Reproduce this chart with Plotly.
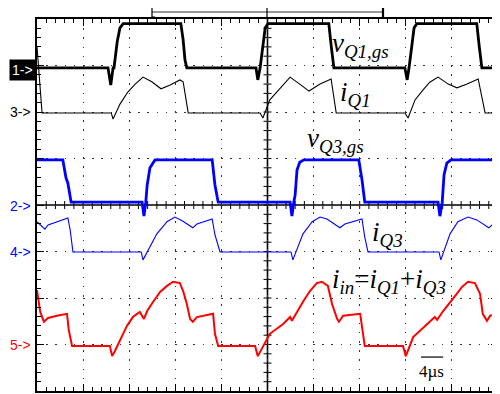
import plotly.graph_objects as go

# ---------------- data (time in scope divisions, amplitude in divisions relative to channel marker)
t_vq1gs = [0, 1.54, 1.60, 1.65, 1.67, 1.74, 1.80, 1.87, 3.12, 3.17, 3.21, 3.25,
           4.75, 4.79, 4.84, 4.90, 4.95, 5.01, 6.33, 6.38, 6.44,
           7.98, 8.03, 8.07, 8.13, 8.18, 8.24, 9.54, 9.59, 9.65, 10]
v_vq1gs = [0, 0, -0.37, 0, 0, 0.56, 0.86, 0.95, 0.95, 0.60, 0.17, 0,
           0, -0.26, 0, 0.49, 0.86, 0.95, 0.95, 0.49, 0,
           0, -0.26, 0, 0.49, 0.86, 0.95, 0.95, 0.49, 0, 0]

t_iq1 = [0, 0.11, 1.61, 1.65, 1.80, 1.97, 2.13, 2.30, 2.49, 2.69, 2.89, 3.10, 3.17, 3.28,
         4.84, 4.90, 5.05, 5.23, 5.38, 5.49, 5.70, 5.90, 6.14, 6.38, 6.49,
         7.98, 8.05, 8.20, 8.37, 8.52, 8.70, 8.92, 9.11, 9.33, 9.57, 9.72, 10]
v_iq1 = [1.42, 0, 0, -0.13, 0.19, 0.45, 0.62, 0.77, 0.67, 0.52, 0.60, 0.71, 0.67, 0,
         0, -0.11, 0.28, 0.49, 0.66, 0.77, 0.62, 0.47, 0.62, 0.73, 0,
         0, -0.11, 0.28, 0.49, 0.66, 0.77, 0.62, 0.54, 0.62, 0.73, 0, 0]

t_vq3gs = [0, 0.56, 0.63, 0.67, 0.74, 2.28, 2.32, 2.36, 2.39, 2.45, 2.56, 3.80, 3.86, 3.93,
           5.49, 5.53, 5.57, 5.60, 5.64, 5.70, 5.79, 6.98, 7.05, 7.11,
           8.70, 8.74, 8.79, 8.83, 8.89, 8.98, 10]
v_vq3gs = [0.97, 0.97, 0.58, 0.47, 0.06, 0.06, -0.24, 0.06, 0.43, 0.80, 0.97, 0.97, 0.43, 0.06,
           0.06, -0.24, 0.06, 0.22, 0.75, 0.92, 0.97, 0.97, 0.54, 0.06,
           0.06, -0.24, 0.06, 0.65, 0.90, 0.97, 0.97]

t_iq3 = [0, 0.11, 0.17, 0.24, 0.67, 0.72, 0.78,
         2.26, 2.30, 2.60, 2.82, 2.99, 3.15, 3.38, 3.47, 3.80, 3.86, 3.97,
         5.51, 5.55, 5.77, 5.97, 6.14, 6.29, 6.57, 6.68, 7.05, 7.11, 7.18,
         8.72, 8.76, 8.96, 9.13, 9.35, 9.54, 9.80, 9.89, 10]
v_iq3 = [0.65, 0.56, 0.49, 0.58, 0.73, 0.47, 0,
         0, -0.17, 0.39, 0.65, 0.75, 0.67, 0.52, 0.60, 0.71, 0.37, 0,
         0, -0.17, 0.39, 0.65, 0.75, 0.71, 0.52, 0.60, 0.71, 0.32, 0,
         0, -0.17, 0.39, 0.65, 0.75, 0.69, 0.52, 0.60, 0.67]

t_iin = [0, 0.07, 0.15, 0.24, 0.43, 0.65, 0.69, 0.76,
         1.58, 1.63, 1.69, 1.80, 1.95, 2.08, 2.23, 2.32, 2.39, 2.52, 2.67, 2.82, 2.95,
         3.10, 3.17, 3.25, 3.32, 3.38, 3.47, 3.82, 3.86, 3.93,
         4.73, 4.79, 5.05, 5.34, 5.49, 5.53, 5.64, 5.77, 5.92, 6.07, 6.18, 6.31,
         6.40, 6.51, 6.55, 6.64, 7.01, 7.07, 7.11,
         7.94, 8.00, 8.16, 8.46, 8.63, 8.68, 8.81, 9.02, 9.22, 9.35, 9.50, 9.61,
         9.67, 9.76, 9.83, 10]
v_iin = [1.20, 0.73, 0.52, 0.60, 0.65, 0.69, 0.34, 0,
         0, -0.22, -0.11, 0.11, 0.43, 0.62, 0.73, 0.58, 0.75, 0.95, 1.16, 1.29, 1.38,
         1.35, 1.18, 0.90, 0.58, 0.52, 0.62, 0.69, 0.26, 0,
         0, -0.22, 0.26, 0.47, 0.62, 0.54, 0.73, 0.95, 1.18, 1.35, 1.38, 1.29,
         0.90, 0.58, 0.52, 0.65, 0.69, 0.26, 0,
         0, -0.22, 0.19, 0.47, 0.62, 0.56, 0.75, 1.01, 1.27, 1.38, 1.35, 1.12,
         0.69, 0.54, 0.65, 0.69]

# channel reference levels (divisions) and styles
channels = [
    ("1->", 2.95, t_vq1gs, v_vq1gs, "black", 2.8),
    ("3->", 1.98, t_iq1, v_iq1, "black", 1.1),
    ("2->", 0.0, t_vq3gs, v_vq3gs, "#0000ff", 2.8),
    ("4->", -1.01, t_iq3, v_iq3, "#0000ff", 1.1),
    ("5->", -3.03, t_iin, v_iin, "#ff0000", 2.0),
]

fig = go.Figure()
for name, off, tt, vv, col, w in channels:
    fig.add_trace(go.Scatter(x=tt, y=[off + v for v in vv], mode="lines",
                             line=dict(color=col, width=w), hoverinfo="skip",
                             showlegend=False))

# ---------------- frame, grid, ticks
axis_common = dict(showticklabels=False, zeroline=False, showline=True,
                   linecolor="black", linewidth=1.6, mirror="allticks",
                   ticks="inside", ticklen=7, tickcolor="black", tickwidth=1,
                   showgrid=True, gridcolor="#333333", gridwidth=1,
                   griddash="1.5px,7.7px", dtick=1, tick0=0, fixedrange=True,
                   automargin=False)
fig.update_xaxes(range=[0, 10], **axis_common,
                 minor=dict(dtick=0.2, ticks="inside", ticklen=4,
                            tickcolor="black", showgrid=False))
fig.update_yaxes(range=[-4, 4], **axis_common,
                 minor=dict(dtick=0.2, ticks="inside", ticklen=4,
                            tickcolor="black", showgrid=False))

shapes = []
shapes.append(dict(type="line", xref="x", yref="y", x0=5, x1=5, y0=-4, y1=4,
                   line=dict(color="black", width=1.6), layer="below"))
shapes.append(dict(type="line", xref="x", yref="y", x0=0, x1=10, y0=0, y1=0,
                   line=dict(color="black", width=1.6), layer="below"))
p = ""
hy = 4 / 46.5
hx = 4 / 46.1
for i in range(1, 50):
    x = i * 0.2
    p += f"M{x:.3f},{-hy:.4f}L{x:.3f},{hy:.4f}"
for j in range(1, 40):
    y = -4 + j * 0.2
    p += f"M{5 - hx:.4f},{y:.3f}L{5 + hx:.4f},{y:.3f}"
shapes.append(dict(type="path", xref="x", yref="y", path=p,
                   line=dict(color="black", width=1), layer="below"))

# top bracket (time window indicator), paper coordinates (plot area = 461 x 372 px)
def px2paper_x(px):
    return (px - 37) / 461.0
def py2paper_y(py):
    return (391 - py) / 372.0

yb = py2paper_y(12)
yt = py2paper_y(7)
ybot = py2paper_y(17)
shapes.append(dict(type="line", xref="paper", yref="paper", x0=px2paper_x(152),
                   x1=px2paper_x(383), y0=yb, y1=yb, line=dict(color="#333333", width=1.2)))
for bx, w in [(152, 1.2), (267, 1.2), (383, 2.2)]:
    shapes.append(dict(type="line", xref="paper", yref="paper", x0=px2paper_x(bx),
                       x1=px2paper_x(bx), y0=ybot, y1=yt, line=dict(color="black", width=w)))
shapes.append(dict(type="line", xref="paper", yref="paper", x0=px2paper_x(152),
                   x1=px2paper_x(155), y0=yt, y1=yt, line=dict(color="black", width=1)))
shapes.append(dict(type="line", xref="paper", yref="paper", x0=px2paper_x(152),
                   x1=px2paper_x(155), y0=ybot, y1=ybot, line=dict(color="black", width=1)))
shapes.append(dict(type="line", xref="paper", yref="paper", x0=px2paper_x(264),
                   x1=px2paper_x(270), y0=yt, y1=yt, line=dict(color="black", width=1)))
# 4 us scale bar
shapes.append(dict(type="line", xref="x", yref="y", x0=8.33, x1=8.81,
                   y0=-3.27, y1=-3.27, line=dict(color="black", width=1.2)))
fig.update_layout(shapes=shapes)

# ---------------- annotations
serif = "Liberation Serif, Times New Roman, serif"
ann = []
def lab(text, x, y, size=27):
    ann.append(dict(text=text, x=x, y=y, xref="x", yref="y", xanchor="left",
                    yanchor="middle", showarrow=False,
                    font=dict(family=serif, size=size, color="black")))

lab("<i>v</i><sub><i>Q1,gs</i></sub>", 6.36, 3.44)
lab("<i>i</i><sub><i>Q1</i></sub>", 6.53, 2.39)
lab("<i>v</i><sub><i>Q3,gs</i></sub>", 5.81, 1.40)
lab("<i>i</i><sub><i>Q3</i></sub>", 7.22, -0.62)
lab("<i>i</i><sub><i>in</i></sub>=<i>i</i><sub><i>Q1</i></sub>+<i>i</i><sub><i>Q3</i></sub>",
    6.36, -1.63)
ann.append(dict(text="4µs", x=8.56, y=-3.59, xref="x", yref="y", xanchor="center",
                yanchor="middle", showarrow=False,
                font=dict(family=serif, size=17, color="black")))

marker_y = {"1->": 2.90, "3->": 2.0, "2->": -0.02, "4->": -1.01, "5->": -3.01}
for name, off, tt, vv, col, w in channels:
    is1 = name == "1->"
    ann.append(dict(text=name, x=0, y=marker_y[name], xref="x", yref="y",
                    xanchor="right", yanchor="middle", showarrow=False,
                    xshift=-1 if is1 else -3,
                    bgcolor="black" if is1 else None, borderpad=2,
                    font=dict(family="Liberation Sans, Arial, sans-serif", size=14,
                              color="white" if is1 else col)))
fig.update_layout(annotations=ann)

# the page body adds an 8px offset, so the figure is 8px smaller and margins shifted
fig.update_layout(width=492, height=386,
                  margin=dict(l=29, r=2, t=11, b=3, pad=0, autoexpand=False),
                  paper_bgcolor="white", plot_bgcolor="white", showlegend=False)

fig.write_html("out.html")
